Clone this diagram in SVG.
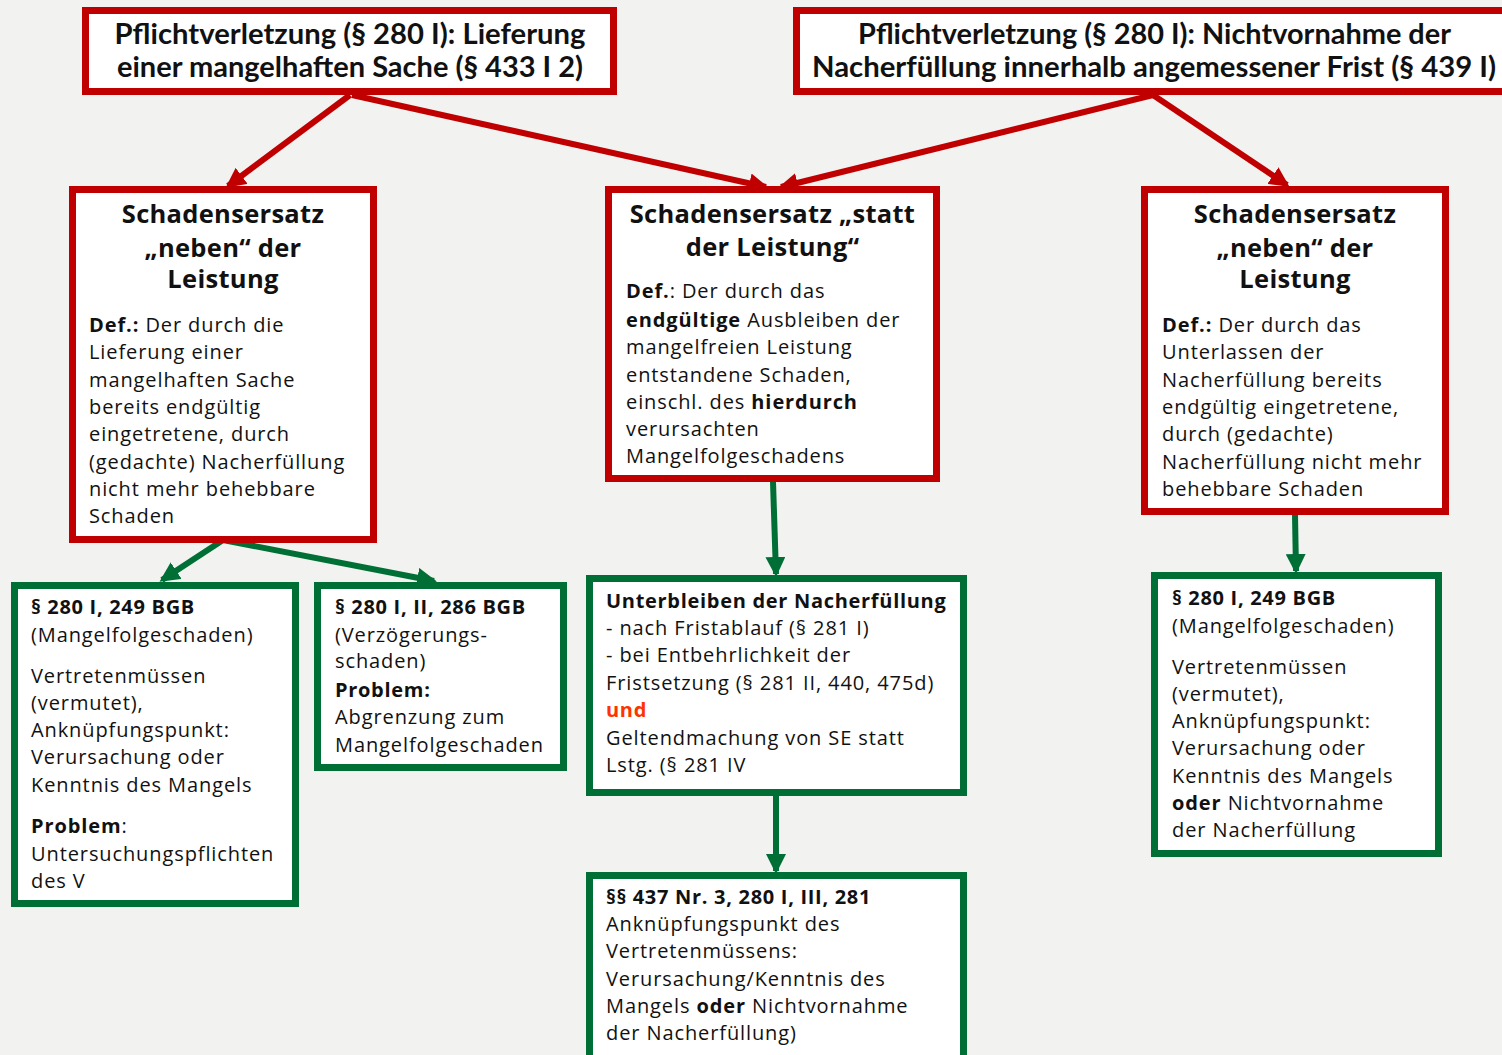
<svg xmlns="http://www.w3.org/2000/svg" width="1502" height="1055" viewBox="0 0 1502 1055">
<style>
.rbox{fill:#fff;stroke:#c00000;stroke-width:7}
.gbox{fill:#fff;stroke:#006f35;stroke-width:7}
text{font-family:"Open Sans","Noto Sans","Liberation Sans",sans-serif;fill:#111}
.top{font-family:Lato,"Open Sans","Liberation Sans",sans-serif;font-size:28px;font-weight:700;text-anchor:middle}
.ttl{font-size:25.5px;font-weight:700;text-anchor:middle;letter-spacing:0.3px}
.bd{font-size:20px;letter-spacing:0.9px}
.hd{font-size:20px;font-weight:700;letter-spacing:0.7px}
.b{font-weight:700}
.und{fill:#ff3300;font-weight:700}
.rl{stroke:#c00000;stroke-width:6;fill:none}
.gl{stroke:#006f35;stroke-width:6;fill:none}
</style>
<defs>
<marker id="ar" markerUnits="userSpaceOnUse" viewBox="0 0 20 20" refX="17" refY="10" markerWidth="20" markerHeight="20" orient="auto"><path d="M0,0 L20,10 L0,20 z" fill="#c00000"/></marker>
<marker id="ag" markerUnits="userSpaceOnUse" viewBox="0 0 20 20" refX="17" refY="10" markerWidth="20" markerHeight="20" orient="auto"><path d="M0,0 L20,10 L0,20 z" fill="#006f35"/></marker>
</defs>
<rect width="1502" height="1055" fill="#f2f2f0"/>
<g id="connectors">
<path class="rl" d="M350,95 L228,186" marker-end="url(#ar)"/>
<path class="rl" d="M352,95 L766,187" marker-end="url(#ar)"/>
<path class="rl" d="M1153,95 L781,187" marker-end="url(#ar)"/>
<path class="rl" d="M1153,95 L1287,185" marker-end="url(#ar)"/>
<path class="gl" d="M223,540 L162,580" marker-end="url(#ag)"/>
<path class="gl" d="M223,540 L434,581" marker-end="url(#ag)"/>
<path class="gl" d="M773,482 L776,574" marker-end="url(#ag)"/>
<path class="gl" d="M776,796 L776,871" marker-end="url(#ag)"/>
<path class="gl" d="M1295,515 L1296,571" marker-end="url(#ag)"/>
</g>
<g id="n1">
<rect class="rbox" x="85.5" y="10.5" width="528" height="81"/>
<text class="top" x="350" y="44" textLength="471" lengthAdjust="spacingAndGlyphs">Pflichtverletzung (§ 280 I): Lieferung</text>
<text class="top" x="350" y="77" textLength="466" lengthAdjust="spacingAndGlyphs">einer mangelhaften Sache (§ 433 I 2)</text>
</g>
<g id="n2">
<rect class="rbox" x="796.5" y="10.5" width="720" height="81"/>
<text class="top" x="1154.5" y="44" textLength="593" lengthAdjust="spacingAndGlyphs">Pflichtverletzung (§ 280 I): Nichtvornahme der</text>
<text class="top" x="1154" y="77" textLength="684" lengthAdjust="spacingAndGlyphs">Nacherfüllung innerhalb angemessener Frist (§ 439 I)</text>
</g>
<g id="n3">
<rect class="rbox" x="72.5" y="189.5" width="301" height="350"/>
<text class="ttl" x="223" y="223">Schadensersatz</text>
<text class="ttl" x="223" y="257">„neben“ der</text>
<text class="ttl" x="223" y="288">Leistung</text>
<text class="bd" x="89" y="332"><tspan class="b">Def.:</tspan> Der durch die</text>
<text class="bd" x="89" y="359">Lieferung einer</text>
<text class="bd" x="89" y="387">mangelhaften Sache</text>
<text class="bd" x="89" y="414">bereits endgültig</text>
<text class="bd" x="89" y="441">eingetretene, durch</text>
<text class="bd" x="89" y="469">(gedachte) Nacherfüllung</text>
<text class="bd" x="89" y="496">nicht mehr behebbare</text>
<text class="bd" x="89" y="523">Schaden</text>
</g>
<g id="n4">
<rect class="rbox" x="608.5" y="189.5" width="328" height="289"/>
<text class="ttl" x="772.5" y="223">Schadensersatz „statt</text>
<text class="ttl" x="772.5" y="256">der Leistung“</text>
<text class="bd" x="626" y="298"><tspan class="b">Def.</tspan>: Der durch das</text>
<text class="bd" x="626" y="327"><tspan class="b">endgültige</tspan> Ausbleiben der</text>
<text class="bd" x="626" y="354">mangelfreien Leistung</text>
<text class="bd" x="626" y="382">entstandene Schaden,</text>
<text class="bd" x="626" y="409">einschl. des <tspan class="b">hierdurch</tspan></text>
<text class="bd" x="626" y="436">verursachten</text>
<text class="bd" x="626" y="463">Mangelfolgeschadens</text>
</g>
<g id="n5">
<rect class="rbox" x="1144.5" y="189.5" width="301" height="322"/>
<text class="ttl" x="1295" y="223">Schadensersatz</text>
<text class="ttl" x="1295" y="257">„neben“ der</text>
<text class="ttl" x="1295" y="288">Leistung</text>
<text class="bd" x="1162" y="332"><tspan class="b">Def.:</tspan> Der durch das</text>
<text class="bd" x="1162" y="359">Unterlassen der</text>
<text class="bd" x="1162" y="387">Nacherfüllung bereits</text>
<text class="bd" x="1162" y="414">endgültig eingetretene,</text>
<text class="bd" x="1162" y="441">durch (gedachte)</text>
<text class="bd" x="1162" y="469">Nacherfüllung nicht mehr</text>
<text class="bd" x="1162" y="496">behebbare Schaden</text>
</g>
<g id="n6">
<rect class="gbox" x="14.5" y="585.5" width="281" height="318"/>
<text class="hd" x="31" y="614">§ 280 I, 249 BGB</text>
<text class="bd" x="31" y="642">(Mangelfolgeschaden)</text>
<text class="bd" x="31" y="683">Vertretenmüssen</text>
<text class="bd" x="31" y="710">(vermutet),</text>
<text class="bd" x="31" y="737">Anknüpfungspunkt:</text>
<text class="bd" x="31" y="764">Verursachung oder</text>
<text class="bd" x="31" y="792">Kenntnis des Mangels</text>
<text class="bd" x="31" y="833"><tspan class="b">Problem</tspan>:</text>
<text class="bd" x="31" y="861">Untersuchungspflichten</text>
<text class="bd" x="31" y="888">des V</text>
</g>
<g id="n7">
<rect class="gbox" x="317.5" y="585.5" width="246" height="182"/>
<text class="hd" x="335" y="614">§ 280 I, II, 286 BGB</text>
<text class="bd" x="335" y="642">(Verzögerungs-</text>
<text class="bd" x="335" y="668">schaden)</text>
<text class="hd" x="335" y="697">Problem:</text>
<text class="bd" x="335" y="724">Abgrenzung zum</text>
<text class="bd" x="335" y="752">Mangelfolgeschaden</text>
</g>
<g id="n8">
<rect class="gbox" x="589.5" y="578.5" width="374" height="214"/>
<text class="hd" x="606" y="608">Unterbleiben der Nacherfüllung</text>
<text class="bd" x="606" y="635">- nach Fristablauf (§ 281 I)</text>
<text class="bd" x="606" y="662">- bei Entbehrlichkeit der</text>
<text class="bd" x="606" y="690">Fristsetzung (§ 281 II, 440, 475d)</text>
<text class="hd und" x="606" y="717">und</text>
<text class="bd" x="606" y="745">Geltendmachung von SE statt</text>
<text class="bd" x="606" y="772">Lstg. (§ 281 IV</text>
</g>
<g id="n9">
<rect class="gbox" x="589.5" y="875.5" width="374" height="200"/>
<text class="hd" x="606" y="904">§§ 437 Nr. 3, 280 I, III, 281</text>
<text class="bd" x="606" y="931">Anknüpfungspunkt des</text>
<text class="bd" x="606" y="958">Vertretenmüssens:</text>
<text class="bd" x="606" y="986">Verursachung/Kenntnis des</text>
<text class="bd" x="606" y="1013">Mangels <tspan class="b">oder</tspan> Nichtvornahme</text>
<text class="bd" x="606" y="1040">der Nacherfüllung)</text>
</g>
<g id="n10">
<rect class="gbox" x="1154.5" y="575.5" width="284" height="278"/>
<text class="hd" x="1172" y="605">§ 280 I, 249 BGB</text>
<text class="bd" x="1172" y="633">(Mangelfolgeschaden)</text>
<text class="bd" x="1172" y="674">Vertretenmüssen</text>
<text class="bd" x="1172" y="701">(vermutet),</text>
<text class="bd" x="1172" y="728">Anknüpfungspunkt:</text>
<text class="bd" x="1172" y="755">Verursachung oder</text>
<text class="bd" x="1172" y="783">Kenntnis des Mangels</text>
<text class="bd" x="1172" y="810"><tspan class="b">oder</tspan> Nichtvornahme</text>
<text class="bd" x="1172" y="837">der Nacherfüllung</text>
</g>
</svg>
